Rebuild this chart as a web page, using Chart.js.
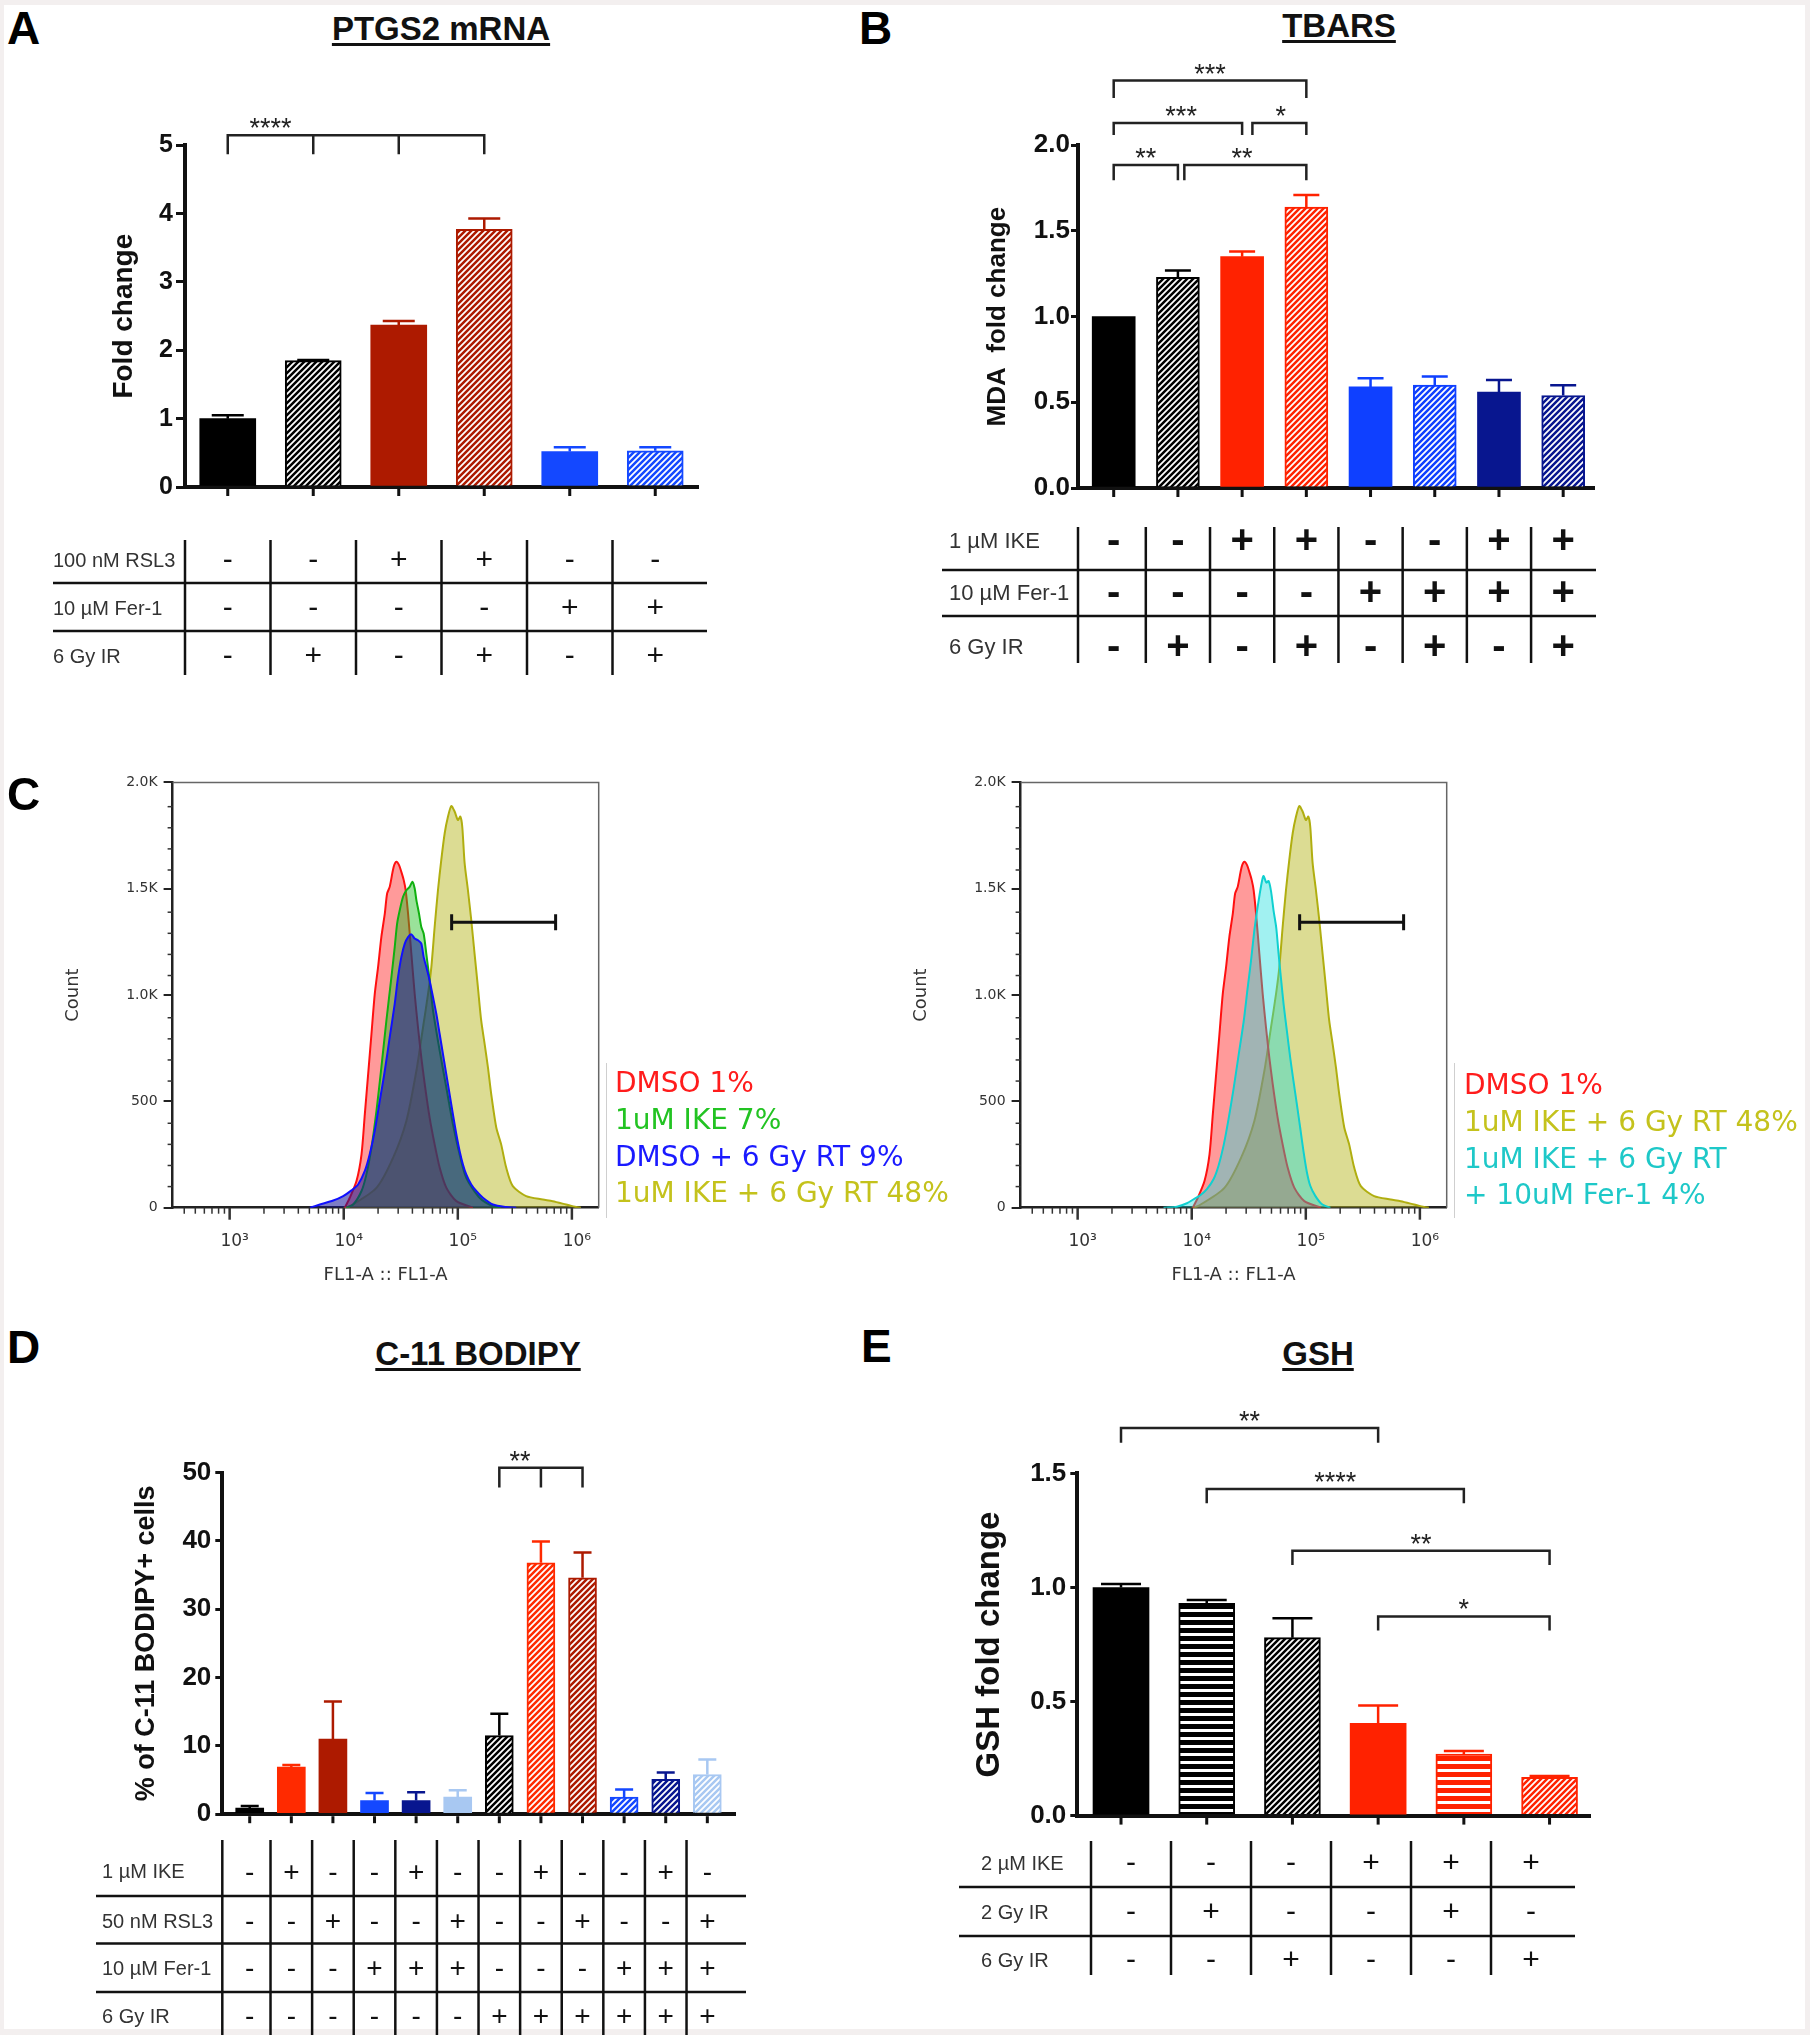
<!DOCTYPE html>
<html>
<head>
<meta charset="utf-8">
<script src="https://cdn.jsdelivr.net/npm/chart.js@4.4.0/dist/chart.umd.min.js"></script>
<style>
html,body{margin:0;padding:0;}
body{width:1810px;height:2035px;position:relative;background:#f3efef;overflow:hidden;font-family:'Liberation Sans',Arial,sans-serif;}
#page{position:absolute;left:4px;top:5px;width:1801px;height:2024px;background:#fff;}
canvas{position:absolute;}
.L{position:absolute;font:bold 46px/1 'Liberation Sans',Arial,sans-serif;color:#000;}
.T{position:absolute;width:400px;text-align:center;font:bold 33px/1 'Liberation Sans',Arial,sans-serif;color:#111;}
.T span{text-decoration:underline;text-decoration-thickness:3px;text-underline-offset:3px;}
.leg{position:absolute;font:28px/36.8px 'DejaVu Sans',sans-serif;white-space:nowrap;z-index:3;}
.sep{position:absolute;width:1px;background:#cfcfcf;z-index:3;}
</style>
</head>
<body>
<div id="page"></div>

<canvas id="cA" width="760" height="640" style="left:0px;top:60px"></canvas>
<canvas id="cB" width="760" height="640" style="left:860px;top:60px"></canvas>
<canvas id="cC1" width="610" height="540" style="left:0px;top:760px"></canvas>
<canvas id="cC2" width="610" height="540" style="left:848px;top:760px"></canvas>
<canvas id="cD" width="800" height="655" style="left:0px;top:1380px"></canvas>
<canvas id="cE" width="760" height="655" style="left:860px;top:1380px"></canvas>

<div class="L" style="left:7px;top:5px">A</div>
<div class="L" style="left:859px;top:5px">B</div>
<div class="L" style="left:7px;top:771px">C</div>
<div class="L" style="left:7px;top:1324px">D</div>
<div class="L" style="left:861px;top:1323px">E</div>

<div class="T" style="left:241px;top:12px"><span>PTGS2 mRNA</span></div>
<div class="T" style="left:1139px;top:9px"><span>TBARS</span></div>
<div class="T" style="left:278px;top:1337px"><span>C-11 BODIPY</span></div>
<div class="T" style="left:1118px;top:1337px"><span>GSH</span></div>

<div class="sep" style="left:606px;top:1063px;height:155px"></div>
<div class="leg" style="left:615px;top:1065px">
  <div style="color:#ff1c1c">DMSO 1%</div>
  <div style="color:#22c322">1uM IKE 7%</div>
  <div style="color:#1a1aff">DMSO + 6 Gy RT 9%</div>
  <div style="color:#c4c21c">1uM IKE + 6 Gy RT 48%</div>
</div>
<div class="sep" style="left:1454px;top:1063px;height:155px"></div>
<div class="leg" style="left:1464px;top:1067px">
  <div style="color:#ff1c1c">DMSO 1%</div>
  <div style="color:#c4c21c">1uM IKE + 6 Gy RT 48%</div>
  <div style="color:#1ec8c8">1uM IKE + 6 Gy RT</div>
  <div style="color:#1ec8c8">+ 10uM Fer-1 4%</div>
</div>

<script>
// ================= DATA =================
// Panel A: PTGS2 mRNA fold change
const aValues = [1.00, 1.85, 2.37, 3.77, 0.52, 0.53];
const aErrors = [0.05, 0.01, 0.06, 0.16, 0.06, 0.05];
const aYTickLabels = ['0', '1', '2', '3', '4', '5'];
const aRowLabels = ['100 nM RSL3', '10 µM Fer-1', '6 Gy IR'];
const aRSL3 = ['-', '-', '+', '+', '-', '-'];
const aFer1 = ['-', '-', '-', '-', '+', '+'];
const aIR   = ['-', '+', '-', '+', '-', '+'];

// Panel B: TBARS (MDA fold change)
const bValues = [1.00, 1.23, 1.35, 1.64, 0.59, 0.60, 0.56, 0.54];
const bErrors = [0.00, 0.04, 0.03, 0.07, 0.05, 0.05, 0.07, 0.06];
const bYTickLabels = ['0.0', '0.5', '1.0', '1.5', '2.0'];
const bRowLabels = ['1 µM IKE', '10 µM Fer-1', '6 Gy IR'];
const bIKE  = ['-', '-', '+', '+', '-', '-', '+', '+'];
const bFer1 = ['-', '-', '-', '-', '+', '+', '+', '+'];
const bIR   = ['-', '+', '-', '+', '-', '+', '-', '+'];

// Panel C: flow cytometry histograms (FL1-A intensity, count)
const dmsoFL1 = [10200,11300,12940,14320,15310,16370,17500,18710,20000,21380,22910,23990,25290,27420,28970,30550,31990,33570,34910,36640,39170,41880,44770,47860,51290,56620,62660,69340,79250,97050,135500];
const dmsoCount = [0,47,126,253,443,633,823,1013,1140,1283,1393,1488,1520,1615,1639,1623,1591,1552,1504,1393,1203,1013,855,712,586,427,300,190,95,31,0];
const ikeFL1 = [10500,12110,14320,15810,17500,19360,21380,23660,26180,27990,29380,30970,33110,35400,37840,40000,41880,43350,45710,47860,50230,52970,56620,60670,69340,79250,90570,103700,118600,155200,202800,240000];
const ikeCount = [0,15,79,158,285,459,665,887,1092,1235,1346,1409,1473,1504,1520,1544,1512,1457,1393,1330,1298,1203,1077,934,744,570,396,253,142,47,7,0];
const irFL1 = [5050,6180,8090,9890,11690,13370,15310,16900,18710,20700,22910,25290,27990,29920,31990,34280,36640,39170,41880,44770,47860,50230,52970,56620,60670,64860,69340,74130,79250,84720,90570,97050,103700,110900,118600,131200,145200,166000,202800,265500,325100];
const irCount = [0,15,34,55,82,110,174,253,364,506,649,807,966,1092,1187,1251,1282,1295,1275,1267,1251,1187,1140,1077,997,918,823,728,633,538,443,348,269,205,158,110,79,47,15,3,0];
const ikeIrFL1 = [10000,11300,19360,27100,35400,43350,49550,54830,58610,62660,66990,71610,76740,82040,87700,93760,100200,105200,109400,114800,122700,131200,140300,150000,160300,171800,183700,196300,217300,239900,265500,303400,397200,555900,679200,889200,1086000,1200000];
const ikeIrCount = [0,7,94,237,411,649,855,1013,1140,1330,1504,1647,1774,1853,1903,1877,1837,1853,1805,1631,1504,1362,1203,1045,887,776,665,538,380,300,190,102,55,39,31,15,3,0];
const ferFL1 = [5660,7410,9080,10380,11890,13580,15560,17180,19010,21040,23280,25760,28510,30900,33040,35320,37330,39360,41300,42660,45080,47210,49550,52240,55080,57810,60950,63970,68390,73110,78160,83750,89540,95720,102300,109400,121100,138700,164100];
const ferCount = [0,5,21,40,59,88,136,199,294,421,564,723,881,1040,1167,1310,1405,1484,1548,1572,1540,1548,1500,1405,1326,1199,1072,961,834,707,596,485,374,262,167,104,56,16,0];
const flowYTickLabels = ['0', '500', '1.0K', '1.5K', '2.0K'];
const flowXTickValues = [1e3, 1e4, 1e5, 1e6];
const flowXTickLabels = ['10³', '10⁴', '10⁵', '10⁶'];
const gateFL1 = [88300, 720000];
const gateCount = 1353;

// Panel D: C-11 BODIPY
const dValues = [0.9, 6.9, 11.0, 2.0, 2.0, 2.5, 11.5, 36.8, 34.6, 2.5, 5.1, 5.8];
const dErrors = [0.3, 0.3, 5.5, 1.1, 1.2, 1.0, 3.2, 3.1, 3.7, 1.1, 1.0, 2.2];
const dYTickLabels = ['0', '10', '20', '30', '40', '50'];
const dRowLabels = ['1 µM IKE', '50 nM RSL3', '10 µM Fer-1', '6 Gy IR'];
const dIKE  = ['-', '+', '-', '-', '+', '-', '-', '+', '-', '-', '+', '-'];
const dRSL3 = ['-', '-', '+', '-', '-', '+', '-', '-', '+', '-', '-', '+'];
const dFer1 = ['-', '-', '-', '+', '+', '+', '-', '-', '-', '+', '+', '+'];
const dIR   = ['-', '-', '-', '-', '-', '-', '+', '+', '+', '+', '+', '+'];

// Panel E: GSH
const eValues = [1.00, 0.93, 0.78, 0.405, 0.27, 0.168];
const eErrors = [0.015, 0.015, 0.085, 0.078, 0.013, 0.006];
const eYTickLabels = ['0.0', '0.5', '1.0', '1.5'];
const eRowLabels = ['2 µM IKE', '2 Gy IR', '6 Gy IR'];
const eIKE = ['-', '-', '-', '+', '+', '+'];
const e2Gy = ['-', '+', '-', '-', '+', '-'];
const e6Gy = ['-', '-', '+', '-', '-', '+'];

// ================= STYLE =================
Chart.defaults.animation = false;
Chart.defaults.font.family = "'Liberation Sans', Arial, sans-serif";
Chart.defaults.color = '#111';
Chart.defaults.events = [];
Chart.defaults.plugins.legend.display = false;
Chart.defaults.plugins.tooltip.enabled = false;

function hatch(color, kind) {
  const c = document.createElement('canvas');
  const s = kind === 'h' ? 8 : 6;
  c.width = s; c.height = s;
  const g = c.getContext('2d');
  g.fillStyle = '#fff'; g.fillRect(0, 0, s, s);
  g.fillStyle = color; g.strokeStyle = color;
  if (kind === 'h') {
    g.fillRect(0, 0, s, 5);
  } else {
    g.lineWidth = 2.5;
    g.beginPath();
    for (let k = -1; k <= 1; k++) { g.moveTo(k * s - 2, s + 2); g.lineTo(k * s + s + 2, -2); }
    g.stroke();
  }
  return g.createPattern(c, 'repeat');
}
function fillsFor(colors, kinds) { return colors.map((c, i) => kinds[i] === 's' ? c : hatch(c, kinds[i])); }

const aColors = ['#000000', '#000000', '#ad1a00', '#ad1a00', '#1448ff', '#1448ff'];
const aKinds = ['s', 'd', 's', 'd', 's', 'd'];
const bColors = ['#000000', '#000000', '#ff2200', '#ff2200', '#0f40ff', '#0f40ff', '#08168f', '#08168f'];
const bKinds = ['s', 'd', 's', 'd', 's', 'd', 's', 'd'];
const dColors = ['#000000', '#ff2a00', '#ad1a00', '#1448ff', '#08168f', '#a8c8f2', '#000000', '#ff2a00', '#ad1a00', '#1448ff', '#08168f', '#a8c8f2'];
const dKinds = ['s', 's', 's', 's', 's', 's', 'd', 'd', 'd', 'd', 'd', 'd'];
const eColors = ['#000000', '#000000', '#000000', '#ff2200', '#ff2200', '#ff2200'];
const eKinds = ['s', 'h', 'd', 's', 'h', 'd'];

// ================= PLUGINS =================
const barDecor = {
  id: 'barDecor',
  afterDraw(chart, args, o) {
    const ctx = chart.ctx, a = chart.chartArea;
    const xs = chart.scales.x, ys = chart.scales.y;
    ctx.save();
    ctx.fillStyle = '#111';
    o.values.forEach((v, i) => { const px = xs.getPixelForValue(i); ctx.fillRect(px - 1.5, a.bottom + 2, 3, 7); });
    ctx.lineWidth = 2.5;
    o.values.forEach((v, i) => {
      const e = o.errors[i]; if (!e) return;
      const px = xs.getPixelForValue(i), y0 = ys.getPixelForValue(v), y1 = ys.getPixelForValue(v + e);
      ctx.strokeStyle = o.colors[i];
      ctx.beginPath(); ctx.moveTo(px, y0); ctx.lineTo(px, y1);
      ctx.moveTo(px - o.capW / 2, y1); ctx.lineTo(px + o.capW / 2, y1); ctx.stroke();
    });
    ctx.strokeStyle = '#222'; ctx.fillStyle = '#222'; ctx.lineWidth = 2.5; ctx.lineJoin = 'miter';
    ctx.font = "27px 'Liberation Sans', Arial";
    ctx.textAlign = 'center'; ctx.textBaseline = 'alphabetic';
    o.brackets.forEach(b => {
      const x1 = xs.getPixelForValue(b.from), x2 = xs.getPixelForValue(b.to);
      const y = ys.getPixelForValue(b.y), yd = ys.getPixelForValue(b.drop);
      ctx.beginPath(); ctx.moveTo(x1, yd); ctx.lineTo(x1, y); ctx.lineTo(x2, y); ctx.lineTo(x2, yd);
      (b.mids || []).forEach(m => { const xm = xs.getPixelForValue(m); ctx.moveTo(xm, y); ctx.lineTo(xm, yd); });
      ctx.stroke();
      const m = ctx.measureText(b.text);
      const cy = y - 12;
      ctx.fillText(b.text, xs.getPixelForValue(b.tx), cy + (m.actualBoundingBoxAscent - m.actualBoundingBoxDescent) / 2);
    });
    const t = o.table, ox = o.ox, oy = o.oy, n = o.values.length;
    const colCenter = i => t.colStart !== undefined ? t.colStart + (i + 0.5) * t.colW - ox : xs.getPixelForValue(i);
    const colLine = i => t.colStart !== undefined ? t.colStart + i * t.colW - ox : (i === 0 ? a.left : xs.getPixelForValue(i - 0.5));
    ctx.strokeStyle = '#111'; ctx.lineWidth = 2.5;
    t.lineY.forEach(y => { ctx.beginPath(); ctx.moveTo(t.x1 - ox, y - oy); ctx.lineTo(t.x2 - ox, y - oy); ctx.stroke(); });
    for (let i = 0; i < n; i++) { const x = colLine(i); ctx.beginPath(); ctx.moveTo(x, t.vTop - oy); ctx.lineTo(x, t.vBottom - oy); ctx.stroke(); }
    ctx.fillStyle = '#333'; ctx.font = t.labelFont; ctx.textAlign = 'left'; ctx.textBaseline = 'middle';
    t.labels.forEach((lab, r) => ctx.fillText(lab, t.labelX - ox, t.rowY[r] - oy));
    ctx.fillStyle = '#111'; ctx.font = t.signFont; ctx.textAlign = 'center';
    t.rows.forEach((row, r) => row.forEach((s, i) => ctx.fillText(s, colCenter(i), t.rowY[r] - oy)));
    ctx.restore();
  }
};

const flowDecor = {
  id: 'flowDecor',
  afterDraw(chart, args, o) {
    const ctx = chart.ctx, a = chart.chartArea;
    const xs = chart.scales.x, ys = chart.scales.y;
    ctx.save();
    ctx.strokeStyle = '#666'; ctx.lineWidth = 1.5;
    ctx.beginPath(); ctx.moveTo(a.left, a.top); ctx.lineTo(a.right, a.top); ctx.lineTo(a.right, a.bottom); ctx.stroke();
    ctx.strokeStyle = '#333'; ctx.lineWidth = 1.5;
    for (let v = 100; v < 2000; v += 100) {
      if (v % 500 === 0) continue;
      const y = ys.getPixelForValue(v);
      ctx.beginPath(); ctx.moveTo(a.left, y); ctx.lineTo(a.left - 5, y); ctx.stroke();
    }
    for (let e = 2; e <= 6; e++) for (let k = 1; k <= 9; k++) {
      const v = k * Math.pow(10, e);
      if (v < xs.min || v > xs.max) continue;
      const x = xs.getPixelForValue(v);
      ctx.lineWidth = k === 1 ? 2.5 : 1.5;
      ctx.beginPath(); ctx.moveTo(x, a.bottom); ctx.lineTo(x, a.bottom + (k === 1 ? 12 : 6)); ctx.stroke();
    }
    ctx.fillStyle = '#333'; ctx.font = "17px 'DejaVu Sans', sans-serif";
    ctx.textAlign = 'center'; ctx.textBaseline = 'alphabetic';
    o.tickValues.forEach((v, i) => ctx.fillText(o.tickLabels[i], xs.getPixelForValue(v) + 5, a.bottom + 38));
    const gx1 = xs.getPixelForValue(o.gate[0]), gx2 = xs.getPixelForValue(o.gate[1]), gy = ys.getPixelForValue(o.gateY);
    ctx.strokeStyle = '#111'; ctx.lineWidth = 3;
    ctx.beginPath();
    ctx.moveTo(gx1, gy); ctx.lineTo(gx2, gy);
    ctx.moveTo(gx1, gy - 8); ctx.lineTo(gx1, gy + 8);
    ctx.moveTo(gx2, gy - 8); ctx.lineTo(gx2, gy + 8);
    ctx.stroke();
    ctx.restore();
  }
};

// ================= CHART BUILDERS =================
function makeBar(id, o) {
  const fills = fillsFor(o.colors, o.kinds);
  return new Chart(document.getElementById(id), {
    type: 'bar',
    data: { datasets: [{
      data: o.values.map((v, i) => ({ x: i, y: v })),
      backgroundColor: fills,
      borderColor: o.colors,
      borderWidth: o.kinds.map(k => k === 's' ? 0 : 2),
      borderSkipped: 'start',
      barThickness: o.barW
    }] },
    options: {
      responsive: false, maintainAspectRatio: false, animation: false,
      layout: { padding: o.pad },
      scales: {
        x: { type: 'linear', min: o.xMin, max: o.xMax, offset: false, z: 1,
             ticks: { display: false }, grid: { display: false, offset: false },
             border: { display: true, width: 4, color: '#111' },
             afterFit: s => { s.height = 10; } },
        y: { type: 'linear', min: 0, max: o.yMax,
             ticks: { stepSize: o.yStep, font: { size: o.tickSize, weight: 'bold' }, color: '#111', padding: o.tickPad,
                      callback: (v, i) => o.yLabels[i] },
             grid: { display: true, drawOnChartArea: false, drawTicks: true, tickLength: o.tickLen, lineWidth: 3, color: '#111' },
             border: { display: true, width: 4, color: '#111' },
             title: { display: true, text: o.yTitle, font: { size: o.titleSize, weight: 'bold', lineHeight: 1.2 }, color: '#111', padding: 0 },
             afterFit: s => { s.width = o.yW; } }
      },
      plugins: {
        legend: { display: false }, tooltip: { enabled: false },
        barDecor: { ox: o.ox, oy: o.oy, values: o.values, errors: o.errors, colors: o.colors, capW: o.capW,
                    brackets: o.brackets, table: o.table }
      }
    },
    plugins: [barDecor]
  });
}

function series(xv, yv, line, fill) {
  return { data: xv.map((x, i) => ({ x: x, y: yv[i] })), borderColor: line, backgroundColor: fill,
           borderWidth: 2, pointRadius: 0, tension: 0.25, fill: 'origin' };
}

function makeFlow(id, datasets) {
  return new Chart(document.getElementById(id), {
    type: 'line',
    data: { datasets: datasets },
    options: {
      responsive: false, maintainAspectRatio: false, animation: false,
      layout: { padding: { left: 63, top: 22.4, right: 11.3, bottom: 13.8 } },
      scales: {
        x: { type: 'logarithmic', min: 316.2, max: 1718000, offset: false,
             ticks: { display: false }, grid: { display: false },
             border: { display: true, width: 2.5, color: '#222' },
             title: { display: true, text: 'FL1-A :: FL1-A', font: { family: "'DejaVu Sans', sans-serif", size: 18, lineHeight: 1.2 }, color: '#333', padding: 0 },
             afterFit: s => { s.height = 78.5; } },
        y: { type: 'linear', min: 0, max: 2015,
             ticks: { stepSize: 500, includeBounds: false, font: { family: "'DejaVu Sans', sans-serif", size: 14 }, color: '#333', padding: 6,
                      callback: (v, i) => flowYTickLabels[i] },
             grid: { display: true, drawOnChartArea: false, tickLength: 9, lineWidth: 2, color: '#222' },
             border: { display: true, width: 2.5, color: '#222' },
             title: { display: true, text: 'Count', font: { family: "'DejaVu Sans', sans-serif", size: 18, lineHeight: 1.2 }, color: '#333', padding: 0 },
             afterFit: s => { s.width = 109.6; } }
      },
      plugins: {
        legend: { display: false }, tooltip: { enabled: false },
        flowDecor: { tickValues: flowXTickValues, tickLabels: flowXTickLabels, gate: gateFL1, gateY: gateCount }
      }
    },
    plugins: [flowDecor]
  });
}

// ================= CHARTS =================
makeBar('cA', {
  ox: 0, oy: 60, values: aValues, errors: aErrors, colors: aColors, kinds: aKinds,
  pad: { left: 107.2, top: 85.3, right: 62, bottom: 203 }, yW: 77.8, xMin: -0.5, xMax: 5.5,
  yMax: 5, yStep: 1, yLabels: aYTickLabels, tickSize: 25, tickPad: 3, tickLen: 9,
  yTitle: 'Fold change', titleSize: 28, barW: 56, capW: 32,
  brackets: [{ from: 0, to: 3, mids: [1, 2], y: 5.146, drop: 4.868, text: '****', tx: 0.5 }],
  table: { labels: aRowLabels, rows: [aRSL3, aFer1, aIR], rowY: [561, 609, 657], lineY: [583, 631],
           x1: 53, x2: 707, vTop: 540, vBottom: 675, labelX: 53,
           labelFont: "20px 'Liberation Sans', Arial", signFont: "30px 'Liberation Sans', Arial" }
});

makeBar('cB', {
  ox: 860, oy: 60, values: bValues, errors: bErrors, colors: bColors, kinds: bKinds,
  pad: { left: 122.4, top: 85.3, right: 26, bottom: 202 }, yW: 95.6, xMin: -0.556, xMax: 7.48,
  yMax: 2, yStep: 0.5, yLabels: bYTickLabels, tickSize: 26, tickPad: 1, tickLen: 7,
  yTitle: 'MDA  fold change', titleSize: 26, barW: 43, capW: 26,
  brackets: [
    { from: 0, to: 3, y: 2.378, drop: 2.276, text: '***', tx: 1.5 },
    { from: 0, to: 2, y: 2.13, drop: 2.06, text: '***', tx: 1.05 },
    { from: 2.16, to: 3, y: 2.13, drop: 2.06, text: '*', tx: 2.6 },
    { from: 0, to: 1, y: 1.885, drop: 1.796, text: '**', tx: 0.5 },
    { from: 1.1, to: 3, y: 1.885, drop: 1.796, text: '**', tx: 2.0 }
  ],
  table: { labels: bRowLabels, rows: [bIKE, bFer1, bIR], rowY: [542, 594, 648], lineY: [570, 616],
           x1: 942, x2: 1596, vTop: 527, vBottom: 663, labelX: 949,
           labelFont: "22px 'Liberation Sans', Arial", signFont: "bold 40px 'Liberation Sans', Arial" }
});

makeFlow('cC1', [
  series(irFL1, irCount, '#1010ff', 'rgba(20,20,150,0.55)'),
  series(ikeFL1, ikeCount, '#10b010', 'rgba(30,190,30,0.45)'),
  series(dmsoFL1, dmsoCount, '#ff1010', 'rgba(255,30,30,0.45)'),
  series(ikeIrFL1, ikeIrCount, '#b0ae10', 'rgba(185,185,40,0.5)')
]);

makeFlow('cC2', [
  series(ferFL1, ferCount, '#10d0d0', 'rgba(20,220,220,0.4)'),
  series(dmsoFL1, dmsoCount, '#ff1010', 'rgba(255,30,30,0.45)'),
  series(ikeIrFL1, ikeIrCount, '#b0ae10', 'rgba(185,185,40,0.5)')
]);

makeBar('cD', {
  ox: 0, oy: 1380, values: dValues, errors: dErrors, colors: dColors, kinds: dKinds,
  pad: { left: 130.5, top: 92.5, right: 64.8, bottom: 210.8 }, yW: 91.8, xMin: -0.659, xMax: 11.67,
  yMax: 50, yStep: 10, yLabels: dYTickLabels, tickSize: 26, tickPad: 4, tickLen: 7,
  yTitle: '% of C-11 BODIPY+ cells', titleSize: 27, barW: 28, capW: 18,
  brackets: [{ from: 6, to: 8, mids: [7], y: 50.7, drop: 47.8, text: '**', tx: 6.5 }],
  table: { labels: dRowLabels, rows: [dIKE, dRSL3, dFer1, dIR], rowY: [1872.8, 1922, 1969.4, 2017], lineY: [1896, 1943.6, 1991.9],
           x1: 96, x2: 746, vTop: 1840, vBottom: 2035, labelX: 102,
           labelFont: "20px 'Liberation Sans', Arial", signFont: "28px 'Liberation Sans', Arial" }
});

makeBar('cE', {
  ox: 860, oy: 1380, values: eValues, errors: eErrors, colors: eColors, kinds: eKinds,
  pad: { left: 110.2, top: 93.4, right: 29.3, bottom: 209.4 }, yW: 107.1, xMin: -0.51, xMax: 5.48,
  yMax: 1.5, yStep: 0.5, yLabels: eYTickLabels, tickSize: 26, tickPad: 4, tickLen: 7,
  yTitle: 'GSH fold change', titleSize: 33, barW: 56, capW: 40,
  brackets: [
    { from: 0, to: 3, y: 1.699, drop: 1.634, text: '**', tx: 1.5 },
    { from: 1, to: 4, y: 1.432, drop: 1.369, text: '****', tx: 2.5 },
    { from: 2, to: 5, y: 1.161, drop: 1.099, text: '**', tx: 3.5 },
    { from: 3, to: 5, y: 0.873, drop: 0.811, text: '*', tx: 4 }
  ],
  table: { labels: eRowLabels, rows: [eIKE, e2Gy, e6Gy], rowY: [1864, 1913, 1961], lineY: [1887, 1936],
           x1: 959, x2: 1575, vTop: 1841, vBottom: 1975, labelX: 981, colStart: 1091, colW: 80,
           labelFont: "20px 'Liberation Sans', Arial", signFont: "30px 'Liberation Sans', Arial" }
});
</script>
</body>
</html>
